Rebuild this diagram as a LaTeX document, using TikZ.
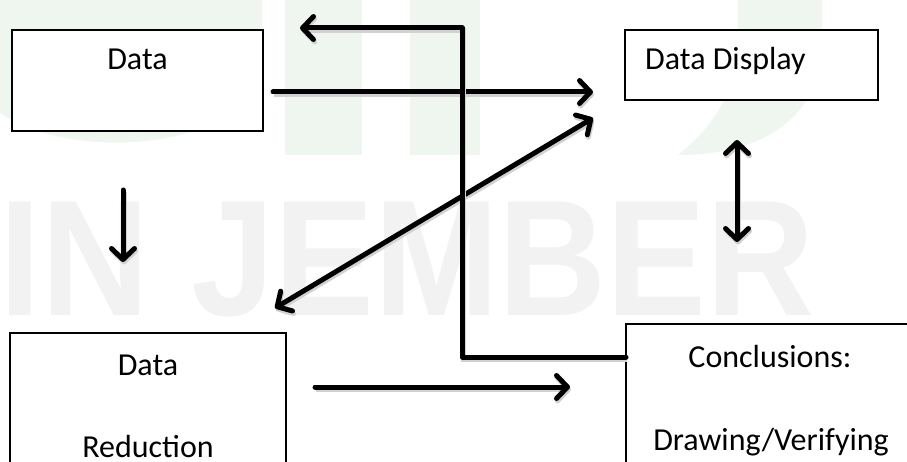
\documentclass[tikz,border=0pt]{standalone}
\usepackage{fontspec}
\setmainfont{Carlito}
\newfontfamily\markfont{Liberation Sans}
\usetikzlibrary{arrows.meta}
\definecolor{markgray}{HTML}{F2F2F2}
\definecolor{markgreen}{HTML}{EFF6F0}
\begin{document}
\begin{tikzpicture}[x=1pt,y=-1pt,
  >={Straight Barb[length=11pt,width=23pt,round]},
  box/.style={draw=black, line width=1.2pt, fill=white, rectangle, inner sep=0pt},
  lbl/.style={font=\fontsize{32}{36}\selectfont, inner sep=0pt, anchor=base},
  flow/.style={line width=5pt, line cap=round, line join=round,
    preaction={draw=black!18, line width=5pt,
      transform canvas={shift={(1pt,-2.5pt)}}}}]
\useasboundingbox (0,0) rectangle (907,462);
\clip (0,0) rectangle (907,462);
\fill[white] (0,0) rectangle (907,462);

% faint background emblem
\fill[markgreen] (-30,0) -- (-30,60) .. controls (-30,170) and (262,170) .. (262,60) -- (262,0) -- cycle;
\fill[markgreen] (285,0) rectangle (362,155);
\fill[markgreen] (410,0) rectangle (480,155);
\fill[markgreen] (738,0) -- (822,0) -- (822,40) .. controls (822,120) and (760,155) .. (678,155)
  .. controls (722,120) and (738,80) .. (738,40) -- cycle;
\node[anchor=base east, inner sep=0pt, xscale=0.907, text=markgray,
  font=\markfont\bfseries\fontsize{165}{165}\selectfont] (emblem) at (815,315) {IN JEMBER};

% boxes
\node[box, minimum width=251pt, minimum height=101pt] (data) at (137.5,80.5) {};
\node[box, minimum width=253pt, minimum height=70pt] (disp) at (751.5,65) {};
\node[box, minimum width=276pt, minimum height=174pt] (red) at (148,420) {};
\node[box, minimum width=290pt, minimum height=212pt] (concl) at (771,430) {};

% labels
\node[lbl] (tData) at (137.5,70) {Data};
\node[lbl, anchor=base west] (tDisp) at (645,70) {Data Display};
\node[lbl] (tRedA) at (148,375) {Data};
\node[lbl] (tRedB) at (148,457) {Reduction};
\node[lbl] (tConA) at (770,367) {Conclusions:};
\node[lbl] (tConB) at (771,450) {Drawing/Verifying};

% connector end points
\coordinate (dOut) at (273,92);
\coordinate (dispIn) at (593,92);
\coordinate (dispDiag) at (593,118);
\coordinate (redDiag) at (275,308);
\coordinate (conOut) at (626,357);
\coordinate (loopTop) at (462,28);
\coordinate (dataBack) at (300,28);
\coordinate (downA) at (123,190);
\coordinate (downB) at (123,262);
\coordinate (vertA) at (737,140);
\coordinate (vertB) at (737,242);
\coordinate (redOut) at (315,387);
\coordinate (conIn) at (570,387);

% connectors
\draw[flow, ->] (dOut) -- (dispIn);
\draw[flow, <->] (dispDiag) -- (redDiag);
\draw[flow, ->] (conOut) -| (loopTop) -- (dataBack);
\draw[flow, ->] (downA) -- (downB);
\draw[flow, <->] (vertA) -- (vertB);
\draw[flow, ->] (redOut) -- (conIn);
\end{tikzpicture}
\end{document}
